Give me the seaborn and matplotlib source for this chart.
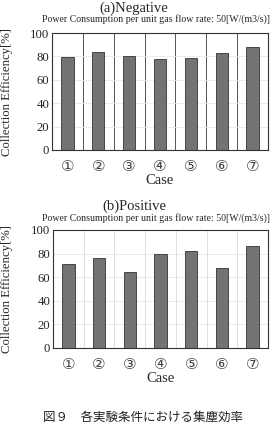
import numpy as np
import pandas as pd
import seaborn as sns
import matplotlib
matplotlib.use("Agg")
import matplotlib.pyplot as plt

cases = ["①", "②", "③", "④", "⑤", "⑥", "⑦"]
negative = [79.5, 84, 80.5, 78, 78.8, 83.3, 88]
positive = [71, 76, 64, 79.5, 82.5, 67.5, 86.8]
yticks = [0, 20, 40, 60, 80, 100]
subtitle = "Power Consumption per unit gas flow rate: 50[W/(m3/s)]"
caption = "図９　各実験条件における集塵効率"

sns.set_theme(style="white")
plt.rcParams['font.family'] = ['Liberation Serif', 'DejaVu Sans']

W, H = 274, 429
fig = plt.figure(figsize=(W / 100, H / 100), dpi=100)

def px_axes(x0, y0, x1, y1):
    return fig.add_axes([x0 / W, 1 - y1 / H, (x1 - x0) / W, (y1 - y0) / H])

def draw(ax, values, title, title_y, sub_y, sep_color, left):
    df = pd.DataFrame({"Case": cases, "Eff": values})
    sns.barplot(data=df, x="Case", y="Eff", ax=ax, color="#737373",
                edgecolor="#333333", linewidth=0.6, width=0.4, saturation=1)
    ax.set_ylim(0, 100)
    ax.set_xlim(-0.5, len(cases) - 0.5)
    ax.set_yticks(yticks)
    ax.set_yticklabels([str(v) for v in yticks], fontsize=9.2)
    ax.set_xticks(range(len(cases)))
    ax.set_xticklabels(cases, fontsize=11,
                       family=['DejaVu Sans'], color="#444444")
    ax.set_xticks(np.arange(0.5, len(cases) - 0.5), minor=True)
    ax.grid(which='minor', axis='x', color=sep_color, lw=0.7)
    ax.grid(which='major', axis='y', color='#e6e6e6', lw=0.6)
    ax.set_axisbelow(True)
    ax.tick_params(axis='x', which='both', length=0)
    ax.tick_params(axis='x', which='major', pad=6.5)
    ax.tick_params(axis='y', which='major', direction='in', length=3,
                   color='#bbbbbb', width=0.6, pad=2)
    ax.set_xlabel("Case", fontsize=10.5, labelpad=0)
    ax.set_ylabel("Collection Efficiency[%]", fontsize=9.2)
    ax.yaxis.set_label_coords((13 - left) / 216, 0.5)
    for s in ax.spines.values():
        s.set_color("#333333")
        s.set_linewidth(0.8)
    fig.text(134 / W, 1 - title_y / H, title, ha='center', va='baseline', fontsize=10.5)
    fig.text(156 / W, 1 - sub_y / H, subtitle, ha='center', va='baseline', fontsize=7.1)

ax1 = px_axes(52, 33, 268, 150)
draw(ax1, negative, "(a)Negative", 11.5, 22, "#555555", 52)
ax2 = px_axes(53, 230, 268, 348)
draw(ax2, positive, "(b)Positive", 209.5, 220.5, "#dddddd", 53)

fig.text(143 / W, 1 - 417 / H, caption, ha='center', va='center', fontsize=9,
         family=['Noto Sans CJK JP', 'DejaVu Sans'], color="#222222")

fig.savefig("out.png", dpi=100)
